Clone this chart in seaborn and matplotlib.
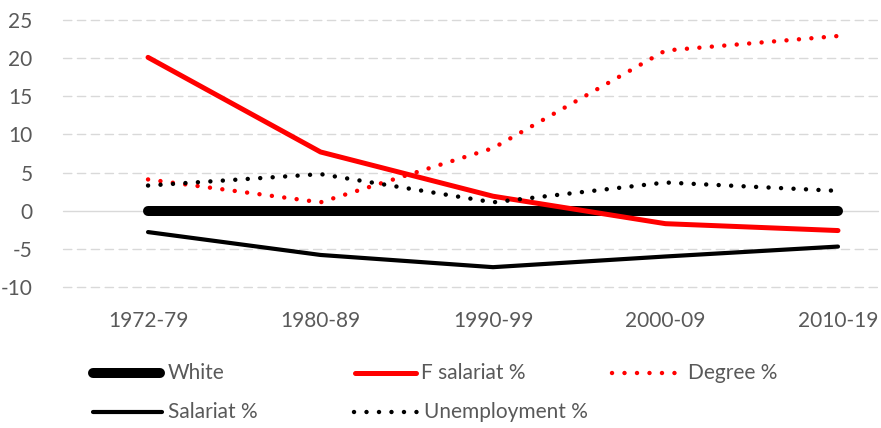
import matplotlib
matplotlib.use("Agg")
import matplotlib.pyplot as plt
from matplotlib.lines import Line2D
import seaborn as sns

periods = ["1972-79", "1980-89", "1990-99", "2000-09", "2010-19"]
white = [0, 0, 0, 0, 0]
f_salariat = [20.1, 7.7, 1.9, -1.7, -2.6]
degree = [4.1, 1.1, 8.2, 21.0, 22.9]
salariat = [-2.8, -5.8, -7.4, -6.0, -4.7]
unemployment = [3.3, 4.8, 1.1, 3.7, 2.6]

sns.set_theme(style="white")
plt.rcParams["font.family"] = ["Lato", "DejaVu Sans"]

GREY = "#595959"
DOT = (0, (0.01, 2.8))
FS = 15

series = [
    ("White", white, "black", 7.2, "-"),
    ("F salariat %", f_salariat, "#ff0000", 3.6, "-"),
    ("Degree %", degree, "#ff0000", 3.2, DOT),
    ("Salariat %", salariat, "black", 3.0, "-"),
    ("Unemployment %", unemployment, "black", 3.2, DOT),
]

fig = plt.figure(figsize=(8.81, 4.28), dpi=100)
ax = fig.add_axes([63 / 881, 1 - 287 / 428, (878 - 63) / 881, (287 - 20) / 428])

# gridlines: dashed, with a solid zero line
for yv in range(-10, 30, 5):
    if yv == 0:
        ax.axhline(yv, color="#d9d9d9", lw=1.0, zorder=0)
    else:
        ax.axhline(yv, color="#d9d9d9", lw=1.0, ls=(0, (6, 4)), zorder=0)

for i, (name, vals, col, lw, ls) in enumerate(series):
    sns.lineplot(x=periods, y=vals, ax=ax, color=col, lw=lw, linestyle=ls,
                 sort=False, zorder=2 + i)
for ln in ax.get_lines():
    ln.set_solid_capstyle("round")
    ln.set_dash_capstyle("round")
    ln.set_clip_on(False)

ax.set_xlim(-0.493, 4.232)
ax.set_ylim(-10, 25)
ax.set_yticks(range(-10, 30, 5))
ax.set_yticklabels([str(v) for v in range(-10, 30, 5)])
for s in ax.spines.values():
    s.set_visible(False)
ax.tick_params(axis="y", length=0, pad=22, labelsize=FS, labelcolor=GREY)
ax.tick_params(axis="x", length=0, pad=17, labelsize=FS, labelcolor=GREY)
ax.set_xlabel("")
ax.set_ylabel("")
ax.grid(False)

# legend laid out in two rows
entries = [
    ("White", "black", 7.2, "-", 93, 160, 373, 168),
    ("F salariat %", "#ff0000", 3.6, "-", 355, 416, 373, 421),
    ("Degree %", "#ff0000", 3.2, DOT, 612, 678, 373, 688),
    ("Salariat %", "black", 3.0, "-", 93, 162, 412, 168),
    ("Unemployment %", "black", 3.2, DOT, 354, 420, 412, 424),
]
W, H = 881, 428
for label, col, lw, ls, x0, x1, y, tx in entries:
    line = Line2D([x0 / W, x1 / W], [1 - y / H, 1 - y / H], color=col, lw=lw,
                  linestyle=ls, solid_capstyle="round", dash_capstyle="round",
                  transform=fig.transFigure)
    fig.add_artist(line)
    fig.text(tx / W, 1 - y / H, label, color=GREY, fontsize=FS,
             va="center", ha="left")

fig.savefig("out.png", dpi=100)
